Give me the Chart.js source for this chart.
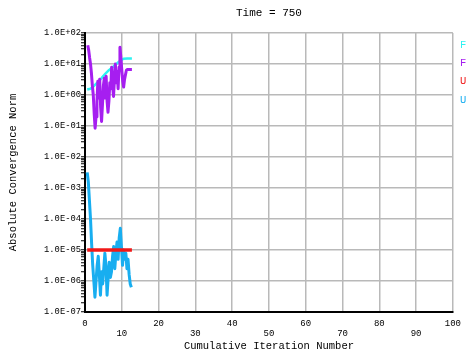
<!DOCTYPE html>
<html>
<head>
<meta charset="utf-8">
<script src="https://cdn.jsdelivr.net/npm/chart.js@4/dist/chart.umd.min.js"></script>
<style>
  html, body { margin: 0; padding: 0; background: #fff; overflow: hidden; }
  #residuals { display: block; }
</style>
</head>
<body>
<canvas id="residuals" width="468" height="354"></canvas>
<script>
'use strict';

// Residual history, iteration -> absolute norm
const fCyanIter = [0.6, 1.5, 2.5, 3.5, 4.5, 5.5, 6.5, 7.5, 8.5, 9.5, 10.5, 11.5, 12.75];
const fCyanNorm = [1.5, 1.6, 2.0, 2.6, 3.5, 4.8, 6.3, 7.9, 10, 12.6, 14.8, 15, 15];

const fPurpleIter = [0.75, 1.0, 1.25, 1.5, 1.75, 2.0, 2.25, 2.5, 2.75, 3.0, 3.25, 3.5, 3.75, 4.0,
  4.25, 4.5, 4.75, 5.0, 5.25, 5.5, 5.75, 6.0, 6.25, 6.5, 6.75, 7.0, 7.25, 7.5, 7.75, 8.0,
  8.25, 8.5, 8.75, 9.0, 9.25, 9.5, 9.75, 10.0, 10.25, 10.5, 10.75, 11.0, 11.25, 11.5, 12.75];
const fPurpleNorm = [40, 28, 16, 10, 5.0, 2.0, 1.0, 0.25, 0.085, 0.2, 0.63, 2.8, 0.8, 3.2,
  0.4, 0.14, 0.5, 2.0, 3.5, 0.8, 4.0, 0.63, 0.28, 0.63, 2.5, 1.6, 7.9, 2.0, 0.9, 3.2,
  10, 2.5, 5.6, 1.6, 7.9, 35, 16, 6.3, 2.8, 1.8, 3.2, 4.5, 6.3, 6.6, 6.6];

const uRedIter = [0.6, 12.75];
const uRedNorm = [1.0e-5, 1.0e-5];

const uBlueIter = [0.6, 0.9, 1.2, 1.5, 1.8, 2.1, 2.4, 2.7, 3.0, 3.3, 3.6, 3.9, 4.2, 4.5,
  4.8, 5.1, 5.4, 5.7, 6.0, 6.3, 6.6, 6.9, 7.2, 7.5, 7.8, 8.1, 8.4, 8.7, 9.0, 9.3, 9.6,
  9.9, 10.2, 10.5, 10.8, 11.1, 11.4, 11.7, 12.0, 12.3, 12.6];
const uBlueNorm = [3.2e-3, 1.6e-3, 4.0e-4, 1.0e-4, 1.6e-5, 3.2e-6, 1.0e-6, 3.0e-7, 1.0e-6,
  3.2e-6, 6.3e-6, 1.6e-6, 3.5e-7, 2.0e-6, 8.0e-7, 2.5e-6, 7.9e-6, 3.2e-6, 3.5e-7, 1.3e-6,
  4.0e-6, 1.3e-6, 2.0e-6, 6.3e-6, 1.3e-5, 2.5e-6, 7.9e-6, 1.8e-5, 5.0e-6, 2.5e-5, 5.0e-5,
  1.3e-5, 3.2e-6, 1.0e-5, 5.0e-6, 7.9e-6, 2.5e-6, 5.0e-6, 1.6e-6, 8.0e-7, 6.3e-7];

// Axis ticks
const xTickLabels = ['0', '10', '20', '30', '40', '50', '60', '70', '80', '90', '100'];
const yDecades = [1e-7, 1e-6, 1e-5, 1e-4, 1e-3, 1e-2, 1e-1, 1e0, 1e1, 1e2];
const yTickLabels = ['1.0E-07', '1.0E-06', '1.0E-05', '1.0E-04', '1.0E-03',
  '1.0E-02', '1.0E-01', '1.0E+00', '1.0E+01', '1.0E+02'];

const MONO = '"Liberation Mono", "DejaVu Sans Mono", monospace';
const GRID = '#b9b9b9';

function toPoints(xs, ys) {
  return xs.map((x, i) => ({ x: x, y: ys[i] }));
}

function decadeIndex(v) {
  return yDecades.findIndex(d => Math.abs(v - d) / d < 1e-6);
}

function series(label, xs, ys, color, width, order) {
  return {
    label: label,
    data: toPoints(xs, ys),
    borderColor: color,
    backgroundColor: color,
    borderWidth: width,
    borderJoinStyle: 'round',
    pointRadius: 0,
    tension: 0,
    fill: false,
    order: order
  };
}

// Plain coloured letters to the right of the plot
const sideLegend = {
  id: 'sideLegend',
  afterDraw(chart) {
    const { ctx, chartArea } = chart;
    ctx.save();
    ctx.font = '10.5px ' + MONO;
    ctx.textAlign = 'left';
    ctx.textBaseline = 'middle';
    chart.data.datasets.forEach((ds, i) => {
      ctx.fillStyle = ds.borderColor;
      ctx.fillText(ds.label, chartArea.right + 7, chartArea.top + 12 + i * 18.3);
    });
    ctx.restore();
  }
};

new Chart(document.getElementById('residuals'), {
  type: 'line',
  data: {
    datasets: [
      series('F', fCyanIter, fCyanNorm, '#2ef2f2', 2.5, 2),
      series('F', fPurpleIter, fPurpleNorm, '#a61ef0', 3, 1),
      series('U', uRedIter, uRedNorm, '#f01818', 3.5, 0),
      series('U', uBlueIter, uBlueNorm, '#18aef0', 3, 3)
    ]
  },
  options: {
    responsive: false,
    animation: false,
    devicePixelRatio: 1,
    layout: { padding: { left: 0, right: 13, top: 0, bottom: 0 } },
    plugins: {
      legend: { display: false },
      tooltip: { enabled: false },
      title: {
        display: true,
        text: 'Time = 750',
        fullSize: false,
        color: '#000',
        font: { family: MONO, size: 11, weight: 'normal' },
        padding: { top: 6, bottom: 13.8 }
      }
    },
    scales: {
      x: {
        type: 'linear',
        min: 0,
        max: 100,
        afterFit(s) { s.height = 42; },
        ticks: {
          stepSize: 10,
          autoSkip: false,
          maxRotation: 0,
          padding: 7,
          color: '#000',
          font: { family: MONO, size: 9, lineHeight: 1.1 },
          callback(value) {
            const i = Math.round(value / 10);
            return i % 2 === 0 ? [xTickLabels[i], ''] : ['', xTickLabels[i]];
          }
        },
        grid: { color: GRID, lineWidth: 1.5, drawTicks: false },
        border: { color: '#000', width: 2 },
        title: {
          display: true,
          text: 'Cumulative Iteration Number',
          color: '#000',
          font: { family: MONO, size: 10.5 },
          padding: { top: 0, bottom: 1 }
        }
      },
      y: {
        type: 'logarithmic',
        min: 1e-7,
        max: 1e2,
        afterFit(s) { s.width = 85; },
        afterBuildTicks(axis) {
          const ticks = [];
          yDecades.forEach((d, i) => {
            if (i === yDecades.length - 1) {
              ticks.push({ value: d, major: true });
              return;
            }
            for (let m = 1; m <= 9; m++) ticks.push({ value: d * m, major: m === 1 });
          });
          axis.ticks = ticks;
        },
        ticks: {
          autoSkip: false,
          padding: 0,
          color: '#000',
          font: { family: MONO, size: 8.8 },
          callback(value) {
            const i = decadeIndex(value);
            return i >= 0 ? yTickLabels[i] : '';
          }
        },
        grid: {
          lineWidth: 1.5,
          tickLength: 4,
          tickWidth: 1,
          tickColor: '#000',
          color: ctx => (ctx.tick && decadeIndex(ctx.tick.value) >= 0 ? GRID : 'rgba(0,0,0,0)')
        },
        border: { color: '#000', width: 2 },
        title: {
          display: true,
          text: 'Absolute Convergence Norm',
          color: '#000',
          font: { family: MONO, size: 10.5 },
          padding: { top: 7, bottom: 0 }
        }
      }
    }
  },
  plugins: [sideLegend]
});
</script>
</body>
</html>
